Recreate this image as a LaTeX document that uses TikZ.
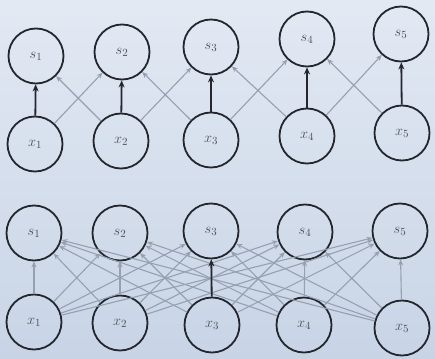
\documentclass[tikz,border=0pt]{standalone}
\usetikzlibrary{arrows.meta}
\definecolor{bgtop}{RGB}{226,233,243}
\definecolor{bgbot}{RGB}{200,212,230}
\definecolor{edgec}{RGB}{150,160,177}
\definecolor{ringc}{RGB}{35,38,45}
\definecolor{labc}{RGB}{75,80,90}
\begin{document}
\begin{tikzpicture}[x=1pt,y=-1pt,
  unit/.style={circle,draw=ringc,line width=1.8pt,minimum size=55pt,inner sep=0pt,
    text=labc,font=\fontsize{15}{17}\selectfont},
  weak/.style={draw=edgec,line width=1.1pt,-{Stealth[length=6pt,width=5pt]}},
  strong/.style={draw=ringc,line width=1.8pt,-{Stealth[length=7pt,width=6pt]}}]
\shade[top color=bgtop,bottom color=bgbot] (0,0) rectangle (435,358);
\useasboundingbox (0,0) rectangle (435,358);
% top panel
\node[unit] (ts1) at (36,56) {$s_1$};
\node[unit] (ts2) at (122,52) {$s_2$};
\node[unit] (ts3) at (211,47) {$s_3$};
\node[unit] (ts4) at (307,39) {$s_4$};
\node[unit] (ts5) at (401,34) {$s_5$};
\node[unit] (tx1) at (35,144) {$x_1$};
\node[unit] (tx2) at (121,141) {$x_2$};
\node[unit] (tx3) at (211,140) {$x_3$};
\node[unit] (tx4) at (307,136) {$x_4$};
\node[unit] (tx5) at (402,133) {$x_5$};
\foreach \i/\j in {1/2,2/1,2/3,3/2,3/4,4/3,4/5,5/4}
  \draw[weak] (tx\i) -- (ts\j);
\foreach \i in {1,...,5}
  \draw[strong] (tx\i) -- (ts\i);
% bottom panel
\node[unit] (bs1) at (34,233) {$s_1$};
\node[unit] (bs2) at (120,233) {$s_2$};
\node[unit] (bs3) at (211,231) {$s_3$};
\node[unit] (bs4) at (305,232) {$s_4$};
\node[unit] (bs5) at (400,231) {$s_5$};
\node[unit] (bx1) at (34,322) {$x_1$};
\node[unit] (bx2) at (120,323) {$x_2$};
\node[unit] (bx3) at (212,325) {$x_3$};
\node[unit] (bx4) at (304,325) {$x_4$};
\node[unit] (bx5) at (402,328) {$x_5$};
\foreach \i in {1,...,5}
  \foreach \j in {1,...,5}
    \draw[weak] (bx\i) -- (bs\j);
\draw[strong] (bx3) -- (bs3);
\end{tikzpicture}
\end{document}
